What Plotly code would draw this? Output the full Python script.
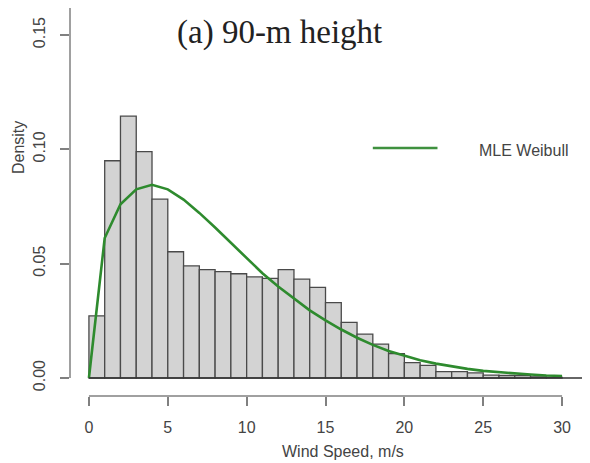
import plotly.graph_objects as go

# Histogram of wind speed (bin width 1 m/s), density values
bin_left = list(range(0, 30))
density = [0.0272, 0.0950, 0.1145, 0.0990, 0.0782, 0.0552, 0.0490, 0.0474, 0.0465, 0.0456,
           0.0442, 0.0436, 0.0474, 0.0432, 0.0396, 0.0330, 0.0243, 0.0192, 0.0148, 0.0107,
           0.0067, 0.0055, 0.0028, 0.0028, 0.0022, 0.0013, 0.0011, 0.0010, 0.0005, 0.0003]

# MLE Weibull curve, read at integer wind speeds
curve_x = list(range(0, 31))
curve_y = [0.0, 0.0612, 0.0760, 0.0825, 0.0845, 0.0825, 0.0780, 0.0722, 0.0658, 0.0592,
           0.0522, 0.0458, 0.0400, 0.0346, 0.0296, 0.0252, 0.0212, 0.0176, 0.0145, 0.0118,
           0.0097, 0.0078, 0.0063, 0.0050, 0.0040, 0.0031, 0.0025, 0.0019, 0.0015, 0.0011,
           0.0009]

x_ticks = [0, 5, 10, 15, 20, 25, 30]
y_ticks = [0.0, 0.05, 0.10, 0.15]
y_tick_text = ["0.00", "0.05", "0.10", "0.15"]

title_text = "(a) 90-m height"
legend_text = "MLE Weibull"
x_label = "Wind Speed, m/s"
y_label = "Density"

X_RANGE = [-1.2, 31.77]
Y_RANGE = [-0.00787, 0.1618]
AX_COL = "#808080"
TXT_COL = "#444444"

mids = [b + 0.5 for b in bin_left]

fig = go.Figure()
fig.add_trace(go.Bar(
    x=mids, y=density, width=1.0,
    marker=dict(color="#d3d3d3", line=dict(color="#4a4a4a", width=1.3)),
    showlegend=False, hoverinfo="skip",
))
fig.add_trace(go.Scatter(
    x=curve_x, y=curve_y, mode="lines",
    line=dict(color="#2e8b2e", width=2.6),
    showlegend=False, name=legend_text,
))

shapes = [
    # y axis line
    dict(type="line", xref="paper", yref="y", x0=0, x1=0, y0=0, y1=Y_RANGE[1],
         line=dict(color=AX_COL, width=1.5)),
    # x axis line (0..30)
    dict(type="line", xref="x", yref="paper", x0=0, x1=30, y0=0, y1=0,
         line=dict(color=AX_COL, width=1.5)),
    # baseline at density 0
    dict(type="line", xref="x", yref="y", x0=0, x1=X_RANGE[1], y0=0, y1=0,
         line=dict(color="#333333", width=1.5)),
    # legend line sample
    dict(type="line", xref="x", yref="y", x0=18.0, x1=22.1, y0=0.1006, y1=0.1006,
         line=dict(color="#3f913f", width=2.6)),
]

annotations = [
    dict(text=title_text, xref="x", yref="y", x=12.1, y=0.151, showarrow=False,
         xanchor="center", yanchor="middle",
         font=dict(family="Liberation Serif", size=33, color="#222222")),
    dict(text=legend_text, xref="x", yref="y", x=24.6, y=0.0997, showarrow=False,
         xanchor="left", yanchor="middle",
         font=dict(family="Liberation Sans", size=16, color=TXT_COL)),
    dict(text=x_label, xref="x", yref="paper", x=16.1, y=-0.1443, showarrow=False,
         xanchor="center", yanchor="middle",
         font=dict(family="Liberation Sans", size=16, color=TXT_COL)),
    dict(text=y_label, xref="paper", yref="paper", x=-0.1, y=0.639, showarrow=False,
         xanchor="center", yanchor="middle", textangle=-90,
         font=dict(family="Liberation Sans", size=16, color=TXT_COL)),
]

fig.update_layout(
    width=582, height=455,
    margin=dict(l=62, r=0, t=0, b=67),
    paper_bgcolor="white", plot_bgcolor="white",
    shapes=shapes, annotations=annotations,
    showlegend=False,
    xaxis=dict(range=X_RANGE, tickvals=x_ticks, ticks="outside", ticklen=9,
               tickwidth=1.5, tickcolor=AX_COL, showline=False, zeroline=False,
               showgrid=False, ticklabelstandoff=8,
               tickfont=dict(family="Liberation Sans", size=16, color=TXT_COL)),
    yaxis=dict(range=Y_RANGE, tickvals=y_ticks, ticktext=y_tick_text, tickangle=-90,
               ticks="outside", ticklen=9, tickwidth=1.5, tickcolor=AX_COL,
               showline=False, zeroline=False, showgrid=False, ticklabelstandoff=9,
               tickfont=dict(family="Liberation Sans", size=16, color=TXT_COL)),
)

fig.write_html("out.html")
